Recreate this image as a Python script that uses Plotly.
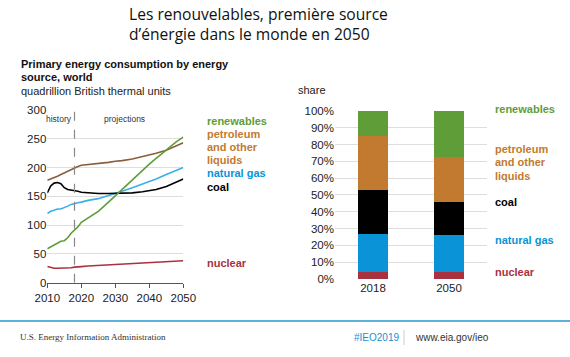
import plotly.graph_objects as go

# ---- data ----
years = [2010, 2011, 2012, 2013, 2014, 2015, 2016, 2017, 2018, 2019, 2020, 2022, 2025,
         2028, 2030, 2032, 2035, 2038, 2040, 2042, 2045, 2048, 2050]
petroleum = [178, 180, 183, 185, 188, 191, 194, 197, 200, 202, 204, 205, 207,
             209, 211, 212, 215, 219, 222, 225, 230, 237, 243]
coal = [156, 168, 173, 174, 172, 165, 162, 161, 161, 159, 157, 156, 155,
        155, 155, 155, 156, 158, 160, 162, 167, 174, 180]
natural_gas = [120, 124, 126, 128, 128, 130, 133, 136, 138, 139, 140, 143, 146,
               151, 155, 159, 165, 171, 176, 180, 188, 195, 200]
renewables = [59, 62, 65, 69, 72, 73, 78, 86, 91, 97, 105, 112, 124,
              140, 151, 162, 180, 196, 206, 216, 231, 245, 253]
nuclear = [28, 26, 25, 25, 25, 25, 25, 26, 27, 28, 28, 29, 30,
           31, 32, 32, 33, 34, 35, 35, 37, 38, 38]

bar_years = ["2018", "2050"]
share_nuclear = [4.3, 4.3]
share_gas = [22.7, 21.7]
share_coal = [25.7, 19.8]
share_petroleum = [32.1, 26.6]
share_renewables = [15.2, 27.6]

left_yticks = [0, 50, 100, 150, 200, 250, 300]
left_xticks = [2010, 2020, 2030, 2040, 2050]
right_yticks = [0, 10, 20, 30, 40, 50, 60, 70, 80, 90, 100]
right_yticklabels = [f"{v}%" for v in right_yticks]

C_REN = "#5E9D38"
C_PET_LINE = "#8A5D3B"
C_PET = "#C27A30"
C_GAS_LINE = "#3AB1E6"
C_GAS = "#0A93D6"
C_COAL = "#000000"
C_NUC = "#A8323F"

W, H = 570, 357
def px(x): return x / W
def py(y): return 1 - y / H

fig = go.Figure()

for vals, col in [(nuclear, C_NUC), (natural_gas, C_GAS_LINE), (coal, C_COAL),
                  (petroleum, C_PET_LINE), (renewables, C_REN)]:
    fig.add_trace(go.Scatter(x=years, y=vals, mode="lines", line=dict(color=col, width=1.6),
                             xaxis="x", yaxis="y", showlegend=False, hoverinfo="skip"))

for vals, col in [(share_nuclear, C_NUC), (share_gas, C_GAS), (share_coal, C_COAL),
                  (share_petroleum, C_PET), (share_renewables, C_REN)]:
    fig.add_trace(go.Bar(x=bar_years, y=vals, marker=dict(color=col, line=dict(width=0)),
                         width=0.39, xaxis="x2", yaxis="y2", showlegend=False, hoverinfo="skip"))

FONT = "Liberation Sans, Arial, sans-serif"

fig.update_layout(
    width=W, height=H, margin=dict(l=0, r=0, t=0, b=0, pad=0, autoexpand=False),
    paper_bgcolor="white", plot_bgcolor="white",
    barmode="stack", font=dict(family=FONT, size=11, color="#222"),
    xaxis=dict(domain=[px(47.3), px(183.3)], range=[2010, 2050], tickvals=left_xticks,
               showgrid=False, showline=True, linecolor="#555", linewidth=1,
               ticks="outside", ticklen=4, tickcolor="#555", zeroline=False, automargin=False,
               tickfont=dict(size=11.5, color="#222"), anchor="y"),
    yaxis=dict(domain=[py(282.7), py(110)], range=[0, 300], tickvals=left_yticks,
               showgrid=True, gridcolor="#dedede", gridwidth=1, zeroline=False, automargin=False,
               showline=False, tickfont=dict(size=11.5, color="#222"), anchor="x"),
    xaxis2=dict(domain=[px(335), px(487)], range=[-0.5, 1.5], type="category",
                showgrid=False, showline=False, ticks="", zeroline=False, automargin=False,
                tickfont=dict(size=11.5, color="#222"), anchor="y2"),
    yaxis2=dict(domain=[py(279), py(110)], range=[0, 100.5], tickmode="array",
                tickvals=right_yticks, ticktext=right_yticklabels,
                showgrid=True, gridcolor="#dedede", gridwidth=1, automargin=False,
                zeroline=False, showline=False, tickfont=dict(size=11.5, color="#222"),
                anchor="x2"),
)

fig.add_shape(type="line", xref="x", yref="y", x0=2018, x1=2018, y0=0, y1=300,
              line=dict(color="#888", width=1.2, dash="dash"))

ann = []
def T(x, y, text, size=11, color="#222", bold=False, xanchor="left", family=FONT, yanchor="middle"):
    if bold:
        text = "<b>" + text + "</b>"
    ann.append(dict(xref="paper", yref="paper", x=px(x), y=py(y), text=text, showarrow=False,
                    xanchor=xanchor, yanchor=yanchor, align="left",
                    font=dict(size=size, color=color, family=family)))

TF = "Open Sans, Noto Sans, sans-serif"
T(127, 24, "Les renouvelables, première source<br>d’énergie dans le monde en 2050",
  size=15.6, color="#111", family=TF)

T(19, 64, "Primary energy consumption by energy", size=11, color="#111", bold=True)
T(19, 77, "source, world", size=11, color="#111", bold=True)
T(19, 91, "quadrillion British thermal units", size=11, color="#222")
T(59, 119, "history", size=8.5, color="#333", xanchor="center")
T(124, 119, "projections", size=8.5, color="#333", xanchor="center")

T(205, 121, "renewables", color=C_REN, bold=True)
T(205, 134, "petroleum", color=C_PET, bold=True)
T(205, 147, "and other", color=C_PET, bold=True)
T(205, 160, "liquids", color=C_PET, bold=True)
T(205, 173, "natural gas", color=C_GAS, bold=True)
T(205, 187, "coal", color="#000", bold=True)
T(205, 263, "nuclear", color=C_NUC, bold=True)

T(296, 90, "share", size=11, color="#222")
T(493, 109, "renewables", color=C_REN, bold=True)
T(493, 149, "petroleum", color=C_PET, bold=True)
T(493, 162, "and other", color=C_PET, bold=True)
T(493, 176, "liquids", color=C_PET, bold=True)
T(493, 202, "coal", color="#000", bold=True)
T(493, 240, "natural gas", color=C_GAS, bold=True)
T(493, 272, "nuclear", color=C_NUC, bold=True)

T(18, 337, "U.S. Energy Information Administration", size=9, color="#333",
  family="Liberation Serif, Times New Roman, serif")
T(352, 337, "#IEO2019", size=10, color="#1a8fd0")
T(413, 337, "www.eia.gov/ieo", size=10, color="#333")

fig.update_layout(annotations=ann)

fig.add_shape(type="line", xref="paper", yref="paper", x0=0, x1=1, y0=py(321), y1=py(321),
              line=dict(color="#5BB3DC", width=2))
fig.add_shape(type="line", xref="paper", yref="paper", x0=px(404), x1=px(404),
              y0=py(330), y1=py(345), line=dict(color="#ccc", width=1))

fig.write_html("out.html", config={"displayModeBar": False},
               post_script="document.body.style.margin='0';document.body.style.overflow='hidden';")
